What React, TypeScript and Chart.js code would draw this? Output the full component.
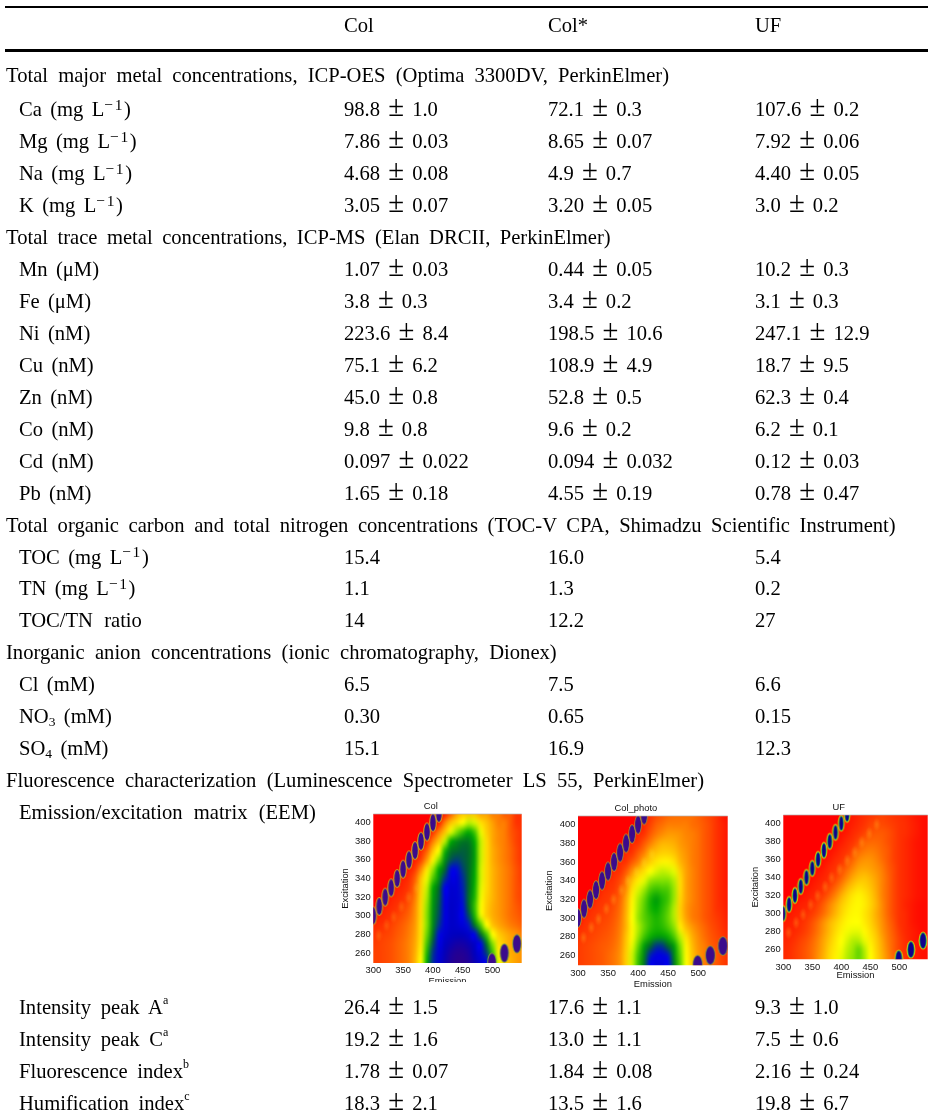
import React, { useEffect, useRef } from "react";
import { Chart, registerables } from "chart.js";

Chart.register(...registerables);

const headerCols = ["Col", "Col*", "UF"];
const firstBlockRows: string[][] = [
  ["Total major metal concentrations, ICP-OES (Optima 3300DV, PerkinElmer)"],
  ["Ca (mg L^−1^)", "98.8 ± 1.0", "72.1 ± 0.3", "107.6 ± 0.2"],
  ["Mg (mg L^−1^)", "7.86 ± 0.03", "8.65 ± 0.07", "7.92 ± 0.06"],
  ["Na (mg L^−1^)", "4.68 ± 0.08", "4.9 ± 0.7", "4.40 ± 0.05"],
  ["K (mg L^−1^)", "3.05 ± 0.07", "3.20 ± 0.05", "3.0 ± 0.2"],
  ["Total trace metal concentrations, ICP-MS (Elan DRCII, PerkinElmer)"],
  ["Mn (μM)", "1.07 ± 0.03", "0.44 ± 0.05", "10.2 ± 0.3"],
  ["Fe (μM)", "3.8 ± 0.3", "3.4 ± 0.2", "3.1 ± 0.3"],
  ["Ni (nM)", "223.6 ± 8.4", "198.5 ± 10.6", "247.1 ± 12.9"],
  ["Cu (nM)", "75.1 ± 6.2", "108.9 ± 4.9", "18.7 ± 9.5"],
  ["Zn (nM)", "45.0 ± 0.8", "52.8 ± 0.5", "62.3 ± 0.4"],
  ["Co (nM)", "9.8 ± 0.8", "9.6 ± 0.2", "6.2 ± 0.1"],
  ["Cd (nM)", "0.097 ± 0.022", "0.094 ± 0.032", "0.12 ± 0.03"],
  ["Pb (nM)", "1.65 ± 0.18", "4.55 ± 0.19", "0.78 ± 0.47"],
  ["Total organic carbon and total nitrogen concentrations (TOC-V CPA, Shimadzu Scientific Instrument)"],
  ["TOC (mg L^−1^)", "15.4", "16.0", "5.4"],
  ["TN (mg L^−1^)", "1.1", "1.3", "0.2"],
  ["TOC/TN ratio", "14", "12.2", "27"],
  ["Inorganic anion concentrations (ionic chromatography, Dionex)"],
  ["Cl (mM)", "6.5", "7.5", "6.6"],
  ["NO~3~ (mM)", "0.30", "0.65", "0.15"],
  ["SO~4~ (mM)", "15.1", "16.9", "12.3"],
  ["Fluorescence characterization (Luminescence Spectrometer LS 55, PerkinElmer)"],
  ["Emission/excitation matrix (EEM)"],
];
const lastBlockRows: string[][] = [
  ["Intensity peak A^a^", "26.4 ± 1.5", "17.6 ± 1.1", "9.3 ± 1.0"],
  ["Intensity peak C^a^", "19.2 ± 1.6", "13.0 ± 1.1", "7.5 ± 0.6"],
  ["Fluorescence index^b^", "1.78 ± 0.07", "1.84 ± 0.08", "2.16 ± 0.24"],
  ["Humification index^c^", "18.3 ± 2.1", "13.5 ± 1.6", "19.8 ± 6.7"],
];

const emission = [300, 310, 320, 330, 340, 350, 360, 370, 380, 390, 400, 410, 420, 430, 440, 450, 460, 470, 480, 490, 500, 510, 520, 530, 540, 550];
const excitation = [410, 400, 390, 380, 370, 360, 350, 340, 330, 320, 310, 300, 290, 280, 270, 260, 250];
const emissionTicks = [300, 350, 400, 450, 500];
const excitationTicks = [260, 280, 300, 320, 340, 360, 380, 400];

const colGrid = [
  [0,0,0,0,0,0,0,0,0,0,0,0,.5,1.5,2.5,3,3,3,2.5,2.5,2,2,1.5,1.5,1,1],
  [0,0,0,0,0,0,0,0,0,0,0,.5,2,3,3.5,4,4.5,4.3,3.5,3,2.5,2,2,1.5,1,1],
  [0,0,0,0,0,0,0,0,0,0,1,2,3,4.2,5,5.6,6,5.5,4.2,3.2,2.6,2.2,2,1.5,1.2,1],
  [0,0,0,0,0,0,0,0,0,.8,2,3,4.5,6,6.5,6.8,6.8,6,4.5,3.4,2.6,2.2,2,1.6,1.2,1],
  [0,0,0,0,0,0,0,0,.8,1.6,3,4,5.8,6.8,7,7.1,7,6.2,4.5,3.4,2.7,2.3,2,1.7,1.3,1],
  [0,0,0,0,0,0,0,.6,1.2,2.4,3.8,5,6.4,7.2,7.4,7.2,7,6.2,4.5,3.4,2.7,2.3,2,1.7,1.3,1],
  [0,0,0,0,0,0,.6,1.1,2.2,3.6,4.8,6,7,7.9,7.9,7.4,7,6.1,4.4,3.4,2.8,2.4,2.1,1.8,1.4,1.1],
  [0,0,0,0,0,.6,.9,1.6,3,4.2,5.4,6.4,7.5,8.3,8.4,7.6,7,6,4.4,3.4,2.8,2.4,2.1,1.8,1.4,1.1],
  [0,0,0,0,.6,.8,1.1,1.8,3.2,4.5,6,7,8,8.6,8.5,7.7,7,5.9,4.3,3.4,2.8,2.4,2.1,1.8,1.4,1.2],
  [0,0,0,.6,.8,1,1.3,2,3.3,4.7,6.2,7.1,8.2,8.7,8.6,7.8,6.9,5.8,4.2,3.3,2.8,2.4,2.1,1.8,1.4,1.2],
  [0,0,.6,.8,1,1.2,1.5,2.2,3.4,4.9,6.3,7.2,8.3,8.8,8.6,7.9,7,5.6,4.1,3.2,2.7,2.4,2.1,1.8,1.5,1.3],
  [0,.6,.8,1,1.2,1.4,1.7,2.3,3.4,5,6.4,7.3,8.3,8.8,8.6,8,7.3,5.8,4.2,3.2,2.7,2.4,2.1,1.8,1.6,1.4],
  [.8,.9,1,1.2,1.4,1.6,1.9,2.4,3.5,5,6.5,7.5,8.4,8.8,8.7,8.4,7.8,6.8,5.4,4,3,2.6,2.3,2,1.8,1.6],
  [1,1.1,1.2,1.3,1.5,1.7,2,2.5,3.5,5.2,6.8,7.9,8.6,8.9,9,9,8.7,8,7,5.5,4,3.2,2.8,2.5,2.3,2],
  [1.1,1.2,1.3,1.4,1.6,1.8,2.1,2.6,3.6,5.5,7.2,8.3,8.9,9.2,9.4,9.4,9.2,8.8,8,6.8,5,3.5,3,2.6,2.4,2.2],
  [1.2,1.2,1.3,1.4,1.6,1.8,2.1,2.7,3.8,5.8,7.5,8.5,9.1,9.5,9.7,9.7,9.5,9,8.4,7.4,5.6,3.8,3,2.7,2.5,2.3],
  [1.2,1.2,1.3,1.4,1.6,1.8,2.1,2.8,4,6,7.6,8.6,9.2,9.6,9.8,9.8,9.6,9.2,8.6,8,6.5,4.2,3.2,2.8,2.5,2.3],
];

const photoGrid = [
  [0,0,0,0,0,0,0,0,0,0,0,.5,1,1.3,1.5,1.7,1.8,1.8,1.8,1.8,1.6,1.4,1.2,1,.5,.3],
  [0,0,0,0,0,0,0,0,0,0,0,.8,1.2,1.6,1.8,2,2,2,2,1.8,1.7,1.5,1.3,1,.7,.4],
  [0,0,0,0,0,0,0,0,0,0,.7,1,1.5,1.9,2.2,2.4,2.4,2.3,2.1,2,1.8,1.5,1.3,1,.7,.4],
  [0,0,0,0,0,0,0,0,0,.8,1,1.5,2,2.5,2.8,2.8,2.7,2.4,2.2,2,1.8,1.5,1.3,1,.7,.4],
  [0,0,0,0,0,0,0,0,.8,1,1.5,2,2.8,3,3.2,3.2,3,2.6,2.3,2,1.8,1.5,1.3,1,.7,.4],
  [0,0,0,0,0,0,0,.8,1,1.5,2,2.8,3.2,3.6,3.8,3.8,3.5,2.8,2.4,2,1.8,1.5,1.3,1,.7,.4],
  [0,0,0,0,0,0,.8,1,1.5,2.3,3,3.5,4,4.3,4.5,4.4,4.2,3.2,2.5,2.1,1.8,1.5,1.3,1,.7,.4],
  [0,0,0,0,0,.8,1,1.3,2,3,3.7,4.2,4.8,5,5,5,4.6,3.4,2.5,2.1,1.8,1.5,1.3,1,.7,.4],
  [0,0,0,0,.8,1,1.1,1.5,2.3,3.5,4.3,4.8,5.4,5.6,5.5,5.4,4.8,3.4,2.5,2.1,1.8,1.5,1.3,1,.7,.5],
  [0,0,0,.8,1,1.1,1.3,1.7,2.6,3.8,4.6,5.2,5.8,6.2,5.8,5.5,4.8,3.3,2.5,2.1,1.8,1.5,1.3,1,.7,.5],
  [0,0,.8,1,1.1,1.2,1.4,1.8,2.7,3.9,4.7,5.3,5.8,6,5.7,5.3,4.6,3.2,2.4,2,1.8,1.5,1.3,1,.8,.5],
  [0,.8,1,1.1,1.2,1.3,1.5,1.9,2.8,4,4.8,5.3,5.6,5.8,5.6,5.2,4.6,3.3,2.5,2,1.8,1.5,1.3,1.1,.9,.6],
  [.8,1,1.1,1.2,1.3,1.4,1.6,2,2.8,3.9,4.6,5.2,5.6,5.8,5.7,5.4,4.9,3.7,2.9,2.4,2,1.7,1.4,1.2,1,.7],
  [1,1.1,1.2,1.3,1.4,1.5,1.7,2.1,3,3.9,4.8,5.5,5.9,6.2,6.2,5.9,5.4,4.5,3.5,2.7,2.2,1.8,1.5,1.3,1.1,.8],
  [1.1,1.2,1.3,1.4,1.5,1.6,1.8,2.2,3.1,4.2,5.2,6.2,7,7.5,7.5,7,6.2,5,3.8,2.9,2.3,2,1.6,1.4,1.2,.9],
  [1.1,1.2,1.3,1.4,1.5,1.7,1.9,2.3,3.2,4.4,5.5,6.6,7.7,8.2,8.2,7.8,6.5,5.2,3.9,3,2.4,2,1.7,1.5,1.2,1],
  [1.1,1.2,1.3,1.4,1.5,1.7,1.9,2.3,3.2,4.4,5.6,6.8,8,8.4,8.4,8,6.7,5.3,4,3,2.4,2,1.7,1.5,1.2,1],
];

const ufGrid = [
  [0,0,0,0,0,0,0,0,0,0,0,.3,.5,.7,.9,1,1.1,1.2,1.1,1,.9,.8,.6,.4,.3,.2],
  [0,0,0,0,0,0,0,0,0,0,0,.4,.6,.8,1,1.2,1.3,1.3,1.2,1.1,1,.9,.7,.5,.3,.2],
  [0,0,0,0,0,0,0,0,0,0,.3,.5,.8,1,1.2,1.4,1.5,1.5,1.4,1.2,1,.9,.7,.5,.3,.2],
  [0,0,0,0,0,0,0,0,0,.3,.5,.8,1,1.3,1.6,1.7,1.7,1.6,1.4,1.2,1,.8,.6,.4,.3,.2],
  [0,0,0,0,0,0,0,0,.3,.5,.8,1,1.3,1.7,1.9,2,1.9,1.7,1.5,1.2,1,.8,.6,.4,.3,.2],
  [0,0,0,0,0,0,0,.3,.5,.8,1,1.3,1.7,2.1,2.3,2.3,2.1,1.8,1.5,1.2,1,.8,.6,.4,.3,.2],
  [0,0,0,0,0,0,.3,.5,.8,1,1.3,1.7,2.1,2.5,2.6,2.5,2.3,2,1.6,1.3,1,.8,.6,.4,.3,.2],
  [0,0,0,0,0,.3,.5,.7,.9,1.2,1.6,2.1,2.6,2.9,3,2.8,2.5,2.1,1.7,1.3,1,.8,.6,.4,.3,.2],
  [0,0,0,0,.3,.5,.7,.9,1.2,1.6,2.1,2.7,3.1,3.4,3.3,3,2.6,2.1,1.7,1.3,1,.8,.6,.4,.3,.2],
  [0,0,0,.3,.5,.7,.9,1.2,1.6,2.1,2.7,3.2,3.6,3.8,3.6,3.2,2.7,2.1,1.7,1.3,1,.8,.6,.4,.3,.2],
  [0,0,.4,.6,.7,.9,1.2,1.6,2.1,2.6,3.1,3.5,3.8,3.9,3.7,3.3,2.8,2.2,1.7,1.3,1,.7,.5,.3,.2,.2],
  [0,.4,.6,.7,.9,1.1,1.4,1.8,2.3,2.8,3.3,3.7,3.9,3.9,3.6,3.2,2.7,2.2,1.7,1.3,1,.8,.5,.3,.2,.2],
  [.5,.6,.7,.9,1.1,1.4,1.8,2.3,2.8,3.2,3.6,3.9,4,4,3.7,3.3,2.8,2.3,1.8,1.4,1,.8,.5,.3,.2,.2],
  [.6,.7,.8,1,1.2,1.5,1.9,2.4,2.9,3.4,3.8,4.1,4.2,4.2,3.9,3.5,3,2.4,1.9,1.5,1.1,.8,.6,.4,.2,.2],
  [.7,.8,1,1.2,1.4,1.7,2.1,2.6,3.1,3.6,4,4.3,4.6,4.6,4.2,3.7,3.2,2.6,2,1.6,1.2,.9,.6,.4,.3,.2],
  [.8,.9,1.1,1.3,1.5,1.8,2.2,2.7,3.3,3.7,4.1,4.5,4.8,5.2,4.6,3.9,3.3,2.7,2.1,1.6,1.2,.9,.7,.5,.3,.3],
  [.8,.9,1.1,1.3,1.5,1.8,2.3,2.8,3.4,3.8,4.2,4.6,4.9,5.2,4.7,4,3.4,2.8,2.2,1.7,1.3,1,.7,.5,.3,.3],
];

const rayleighEm = [300, 310, 320, 330, 340, 350, 360, 370, 380, 390, 400, 410];
const rayleighEx = [300, 310, 320, 330, 340, 350, 360, 370, 380, 390, 400, 410];
const secondOrderEm = [499, 520, 541];
const secondOrderEx = [250, 260, 270];
const spotEm = [309, 322, 334, 347, 359, 372, 383, 397, 410, 423, 435, 448, 461];
const spotEx = [279, 290, 299, 310, 320, 330, 340, 349, 359, 368, 379, 389, 399];

const colorStops: [number, number, number, number][] = [
  [0, 255, 0, 0],
  [1, 255, 50, 0],
  [2, 255, 125, 0],
  [3, 255, 195, 0],
  [4, 255, 255, 0],
  [5, 130, 225, 0],
  [6, 0, 170, 0],
  [7, 0, 105, 40],
  [8, 0, 0, 235],
  [9, 0, 0, 190],
  [10, 50, 0, 130],
];

function colorFor(v: number): [number, number, number] {
  for (let i = 1; i < colorStops.length; i++) {
    const a = colorStops[i - 1];
    const b = colorStops[i];
    if (v <= b[0]) {
      const t = (v - a[0]) / (b[0] - a[0]);
      return [a[1] + (b[1] - a[1]) * t, a[2] + (b[2] - a[2]) * t, a[3] + (b[3] - a[3]) * t];
    }
  }
  return [50, 0, 130];
}

function ovalSprite(rx: number, ry: number, layers: [number, string][]) {
  const c = document.createElement("canvas");
  const pad = 3;
  c.width = Math.ceil(2 * (rx + pad));
  c.height = Math.ceil(2 * (ry + pad));
  const ctx = c.getContext("2d")!;
  for (const [grow, color] of layers) {
    ctx.beginPath();
    ctx.ellipse(c.width / 2, c.height / 2, rx + grow, ry + grow, 0, 0, Math.PI * 2);
    ctx.fillStyle = color;
    ctx.fill();
  }
  return c;
}

function spotSprite(rx: number, ry: number, alpha: number) {
  const c = document.createElement("canvas");
  c.width = rx * 2;
  c.height = ry * 2;
  const ctx = c.getContext("2d")!;
  ctx.translate(rx, ry);
  ctx.scale(1, ry / rx);
  const g = ctx.createRadialGradient(0, 0, 0, 0, 0, rx);
  g.addColorStop(0, `rgba(255,215,40,${alpha})`);
  g.addColorStop(1, "rgba(255,215,40,0)");
  ctx.fillStyle = g;
  ctx.fillRect(-rx, -rx, rx * 2, rx * 2);
  return c;
}

const heatPlugin = {
  id: "heat",
  beforeDatasetsDraw(chart: any) {
    const meta = chart.getDatasetMeta(0);
    const pts = meta.data;
    const nCols = emission.length;
    const nRows = excitation.length;
    const off = document.createElement("canvas");
    off.width = nCols;
    off.height = nRows;
    const octx = off.getContext("2d")!;
    const img = octx.createImageData(nCols, nRows);
    const raw = chart.data.datasets[0].data;
    raw.forEach((d: any, i: number) => {
      const [r, g, b] = colorFor(d.v);
      img.data[i * 4] = r;
      img.data[i * 4 + 1] = g;
      img.data[i * 4 + 2] = b;
      img.data[i * 4 + 3] = 255;
    });
    octx.putImageData(img, 0, 0);
    const dx = pts[1].x - pts[0].x;
    const dy = pts[nCols].y - pts[0].y;
    const { ctx, chartArea: a } = chart;
    ctx.save();
    ctx.beginPath();
    ctx.rect(a.left, a.top, a.width, a.height);
    ctx.clip();
    ctx.imageSmoothingEnabled = true;
    ctx.imageSmoothingQuality = "high";
    ctx.drawImage(off, pts[0].x - dx / 2, pts[0].y - dy / 2, nCols * dx, nRows * dy);
    ctx.restore();
  },
  afterDatasetsDraw(chart: any) {
    const { ctx, chartArea: a } = chart;
    ctx.save();
    ctx.strokeStyle = "#b4b4b4";
    ctx.lineWidth = 0.7;
    ctx.beginPath();
    ctx.moveTo(a.left, a.top);
    ctx.lineTo(a.right, a.top);
    ctx.stroke();
    ctx.restore();
  },
};

type Panel = {
  title: string;
  grid: number[][];
  left: number;
  top: number;
  width: number;
  height: number;
  yW: number;
  xH: number;
  right: number;
  xTitlePad: number;
  spots: number;
  spotAlpha: number;
  oval: [number, number, [number, string][]];
  bigOval: [number, number, [number, string][]];
};

const axisFont = { family: "'Liberation Sans', Arial, sans-serif", size: 9.4 };
const INDIGO = "#3b0b8c";

const panels: Panel[] = [
  {
    title: "Col", grid: colGrid, left: 340, top: 800, width: 190, height: 181.7, yW: 33.3, xH: 19, right: 8.3, xTitlePad: -4.7,
    spots: 6, spotAlpha: 0.2,
    oval: [2.8, 8.4, [[1, "#c9b020"], [0, INDIGO]]],
    bigOval: [3.8, 8.8, [[1, "#7ea040"], [0, INDIGO]]],
  },
  {
    title: "Col_photo", grid: photoGrid, left: 544, top: 801.7, width: 190, height: 186.3, yW: 34, xH: 23.7, right: 6.3, xTitlePad: -1.1,
    spots: 10, spotAlpha: 0.28,
    oval: [3, 9, [[0.7, "#a8b030"], [0, INDIGO]]],
    bigOval: [4.4, 9, [[0.8, "#7ea040"], [0, INDIGO]]],
  },
  {
    title: "UF", grid: ufGrid, left: 750, top: 800.7, width: 178, height: 181.3, yW: 33.3, xH: 23.7, right: 0.3, xTitlePad: 1.6,
    spots: 13, spotAlpha: 0.26,
    oval: [1.8, 6.8, [[1.6, "#e8e000"], [0.8, "#10a060"], [0, "#10008c"]]],
    bigOval: [2.8, 7.4, [[1.6, "#e8e000"], [0.8, "#10a060"], [0, "#10008c"]]],
  },
];

function HeatPanel({ p }: { p: Panel }) {
  const ref = useRef<HTMLCanvasElement>(null);
  useEffect(() => {
    const cells: { x: number; y: number; v: number }[] = [];
    p.grid.forEach((row, r) => {
      emission.forEach((em, c) => cells.push({ x: em, y: excitation[r], v: row[c] ?? 0 }));
    });
    const chart = new Chart(ref.current!, {
      type: "scatter",
      data: {
        datasets: [
          { label: "EEM", data: cells, pointRadius: 0 },
          {
            label: "Spots",
            data: spotEm.slice(0, p.spots).map((x, i) => ({ x, y: spotEx[i] })),
            pointStyle: spotSprite(4, 7, p.spotAlpha) as any,
            pointRadius: 7,
          },
          {
            label: "Scatter line",
            data: rayleighEm.map((x, i) => ({ x, y: rayleighEx[i] })),
            pointStyle: ovalSprite(...p.oval) as any,
            pointRadius: 12,
          },
          {
            label: "Second order",
            data: secondOrderEm.map((x, i) => ({ x, y: secondOrderEx[i] })),
            pointStyle: ovalSprite(...p.bigOval) as any,
            pointRadius: 12,
          },
        ],
      },
      plugins: [heatPlugin],
      options: {
        animation: false,
        responsive: false,
        events: [],
        layout: { autoPadding: false, padding: { right: p.right, left: 0, top: 0, bottom: 0 } },
        plugins: {
          legend: { display: false },
          tooltip: { enabled: false },
          title: {
            display: true,
            text: p.title,
            color: "#111",
            font: { ...axisFont, weight: "normal" },
            padding: { top: 0.6, bottom: 2.1 },
          },
        },
        scales: {
          x: {
            type: "linear",
            min: 300,
            max: 549,
            grid: { display: false, drawTicks: false },
            border: { display: false },
            afterBuildTicks: (s: any) => { s.ticks = emissionTicks.map((value) => ({ value })); },
            afterFit: (s: any) => { s.height = p.xH; s.paddingRight = 0; s.paddingLeft = 0; },
            ticks: { color: "#111", font: axisFont, padding: 2, maxRotation: 0, autoSkip: false },
            title: { display: true, text: "Emission", color: "#111", font: axisFont, padding: { top: 0, bottom: p.xTitlePad } },
          },
          y: {
            type: "linear",
            min: 249.3,
            max: 409.3,
            grid: { display: false, drawTicks: false },
            border: { display: false },
            afterBuildTicks: (s: any) => { s.ticks = excitationTicks.map((value) => ({ value })); },
            afterFit: (s: any) => { s.width = p.yW; s.paddingTop = 0; s.paddingBottom = 0; },
            ticks: { color: "#111", font: axisFont, padding: 2.6, autoSkip: false },
            title: { display: true, text: "Excitation", color: "#111", font: axisFont, padding: { top: 0, bottom: 2 } },
          },
        },
      } as any,
    });
    return () => chart.destroy();
  }, [p]);
  return (
    <canvas
      ref={ref}
      width={Math.ceil(p.width)}
      height={Math.ceil(p.height)}
      style={{ position: "absolute", left: p.left, top: p.top, filter: "blur(0.45px)" }}
    />
  );
}

const FONT_SIZE = 20.6;
const SECTION_LEFT = 6;
const LABEL_LEFT = 19;
const COL_LEFT = [344, 548, 755];
const SECTION_ENDS: Record<string, number> = {
  "Total major": 669, "Total trace": 610.7, "Total organic": 895.7, "Inorganic": 556.7, "Fluorescence char": 704,
};

function Rich({ text }: { text: string }) {
  const parts = text.split(/(\^[^^]+\^|~[^~]+~|±)/).filter(Boolean);
  return (
    <>
      {parts.map((s, i) => {
        if (s === "±") return <span key={i} style={{ fontSize: "1.4em", lineHeight: 0 }}>±</span>;
        if (s[0] === "^") {
          const math = s.includes("−");
          return (
            <span
              key={i}
              style={{
                fontSize: math ? 15.5 : 12,
                lineHeight: 0,
                position: "relative",
                top: math ? -6.5 : -9.5,
                letterSpacing: math ? 1.6 : 0,
              }}
            >
              {s.slice(1, -1)}
            </span>
          );
        }
        if (s[0] === "~") return <span key={i} style={{ fontSize: 13.5, lineHeight: 0, position: "relative", top: 3 }}>{s.slice(1, -1)}</span>;
        return <span key={i}>{s}</span>;
      })}
    </>
  );
}

function Line({ text, left, base, width, spacing }: { text: string; left: number; base: number; width?: number; spacing?: number }) {
  return (
    <div
      style={{
        position: "absolute",
        left,
        top: base - 0.891 * FONT_SIZE,
        width: width ?? undefined,
        lineHeight: `${1.107 * FONT_SIZE}px`,
        whiteSpace: width ? "normal" : "nowrap",
        textAlign: width ? "justify" : undefined,
        textAlignLast: width ? "justify" : undefined,
        wordSpacing: spacing,
      } as React.CSSProperties}
    >
      <Rich text={text} />
    </div>
  );
}

function labelSpacing(label: string) {
  if (/ratio|EEM/.test(label)) return 6;
  if (/index|peak/.test(label)) return 4.5;
  return 3.2;
}

function TableRow({ row, base }: { row: string[]; base: number }) {
  if (row.length === 1) {
    const key = Object.keys(SECTION_ENDS).find((k) => row[0].startsWith(k));
    if (key) return <Line text={row[0]} left={SECTION_LEFT} base={base} width={SECTION_ENDS[key] - SECTION_LEFT} />;
    return <Line text={row[0]} left={LABEL_LEFT} base={base} spacing={labelSpacing(row[0])} />;
  }
  return (
    <>
      <Line text={row[0]} left={LABEL_LEFT} base={base} spacing={labelSpacing(row[0])} />
      {row.slice(1).map((v, i) => (
        <Line key={i} text={v} left={COL_LEFT[i]} base={base} spacing={3} />
      ))}
    </>
  );
}

export default function App() {
  return (
    <div
      style={{
        position: "absolute", left: 0, top: 0, width: 928, height: 1120, overflow: "hidden", background: "#fff",
        fontFamily: "'Liberation Serif', 'Times New Roman', serif", fontSize: FONT_SIZE, color: "#000",
      }}
    >
      <div style={{ filter: "blur(0.3px)" }}>
        <div style={{ position: "absolute", left: 5, width: 923, top: 5.6, height: 2.4, background: "#000" }} />
        <div style={{ position: "absolute", left: 5, width: 923, top: 49, height: 3, background: "#000" }} />
        {headerCols.map((h, i) => (
          <Line key={h} text={h} left={COL_LEFT[i]} base={32.7} />
        ))}
        <TableRow row={firstBlockRows[0]} base={82.7} />
        {firstBlockRows.slice(1).map((r, i) => (
          <TableRow key={i} row={r} base={116.6 + i * 31.95} />
        ))}
        {lastBlockRows.map((r, i) => (
          <TableRow key={i} row={r} base={1014 + i * 32} />
        ))}
      </div>
      {panels.map((p) => (
        <HeatPanel key={p.title} p={p} />
      ))}
    </div>
  );
}
